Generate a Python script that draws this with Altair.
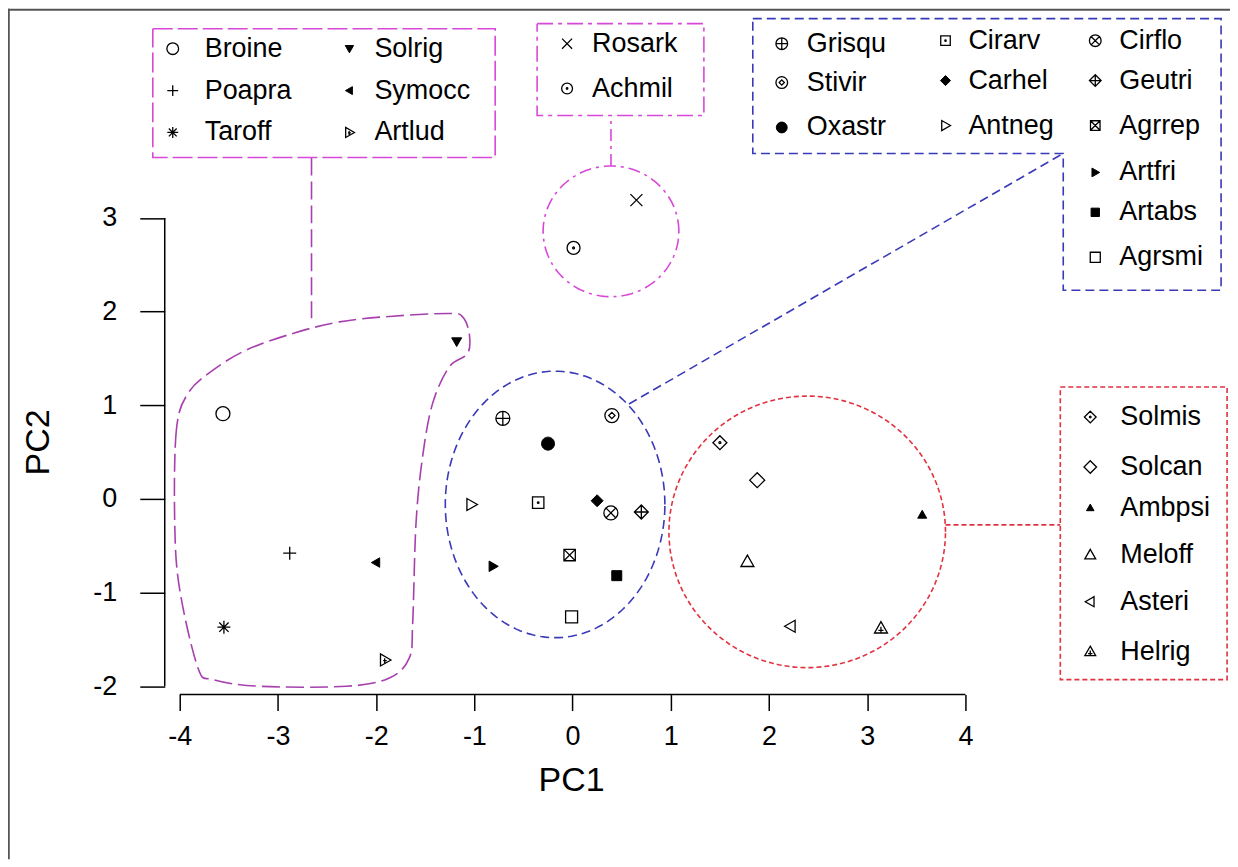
import altair as alt
import numpy as np
import pandas as pd

# ---------------- data ----------------
species = ["Broine", "Poapra", "Taroff", "Solrig", "Symocc", "Artlud",
           "Rosark", "Achmil",
           "Grisqu", "Stivir", "Oxastr", "Cirarv", "Carhel", "Antneg",
           "Cirflo", "Geutri", "Agrrep", "Artfri", "Artabs", "Agrsmi",
           "Solmis", "Solcan", "Ambpsi", "Meloff", "Asteri", "Helrig"]
pc1 = [-3.56, -2.88, -3.55, -1.18, -2.00, -1.91,
       0.65, 0.01,
       -0.71, 0.40, -0.25, -0.35, 0.25, -1.03,
       0.39, 0.70, -0.03, -0.81, 0.45, -0.01,
       1.50, 1.88, 3.56, 1.78, 2.22, 3.14]
pc2 = [0.91, -0.58, -1.37, 1.68, -0.68, -1.72,
       3.19, 2.68,
       0.86, 0.89, 0.59, -0.04, -0.02, -0.06,
       -0.15, -0.14, -0.60, -0.72, -0.82, -1.26,
       0.60, 0.20, -0.17, -0.67, -1.36, -1.38]
x_ticks = [-4, -3, -2, -1, 0, 1, 2, 3, 4]
y_ticks = [-2, -1, 0, 1, 2, 3]

# ---------------- layout (data units) ----------------
XD = [-5.7484, 6.6938]
YD = [-3.8487, 5.2345]
W, H = 1224, 852
AX_X = -4.1525   # y-axis line position
AX_Y = -2.0896   # x-axis line position

# legend layout: species, symbol x, text x, y
legend_layout = [
    ("Broine", -4.071, -3.746, 4.808), ("Poapra", -4.071, -3.746, 4.360), ("Taroff", -4.071, -3.746, 3.913),
    ("Solrig", -2.272, -2.018, 4.808), ("Symocc", -2.272, -2.018, 4.360), ("Artlud", -2.272, -2.018, 3.913),
    ("Rosark", -0.056, 0.198, 4.861), ("Achmil", -0.056, 0.198, 4.382),
    ("Grisqu", 2.130, 2.384, 4.861), ("Stivir", 2.130, 2.384, 4.446), ("Oxastr", 2.130, 2.384, 3.966),
    ("Cirarv", 3.797, 4.030, 4.893), ("Carhel", 3.797, 4.030, 4.467), ("Antneg", 3.797, 4.030, 3.987),
    ("Cirflo", 5.322, 5.566, 4.893), ("Geutri", 5.322, 5.566, 4.467), ("Agrrep", 5.322, 5.566, 3.987),
    ("Artfri", 5.322, 5.566, 3.486), ("Artabs", 5.322, 5.566, 3.060), ("Agrsmi", 5.322, 5.566, 2.580),
    ("Solmis", 5.271, 5.576, 0.874), ("Solcan", 5.271, 5.576, 0.341), ("Ambpsi", 5.271, 5.576, -0.096),
    ("Meloff", 5.271, 5.576, -0.597), ("Asteri", 5.271, 5.576, -1.098), ("Helrig", 5.271, 5.576, -1.631),
]

# ---------------- symbol styles ----------------
C = "M1,0A1,1,0,1,1,-1,0A1,1,0,1,1,1,0Z"
DOT = "M0.14,0A0.14,0.14,0,1,1,-0.14,0A0.14,0.14,0,1,1,0.14,0Z"
PLUS = "M-1,0L1,0M0,-1L0,1"
XX = "M-0.72,-0.72L0.72,0.72M-0.72,0.72L0.72,-0.72"
XFULL = "M-1,-1L1,1M-1,1L1,-1"
SQ = "M-1,-1L1,-1L1,1L-1,1Z"
DIA = "M0,-1L1,0L0,1L-1,0Z"
SDIA = "M0,-0.45L0.45,0L0,0.45L-0.45,0Z"
TUP = "M0,-1L1,0.75L-1,0.75Z"
TDOWN = "M0,1L1,-0.75L-1,-0.75Z"
TLEFT = "M-1,0L0.75,-1L0.75,1Z"
TRIGHT = "M1,0L-0.75,-1L-0.75,1Z"

style = {
    "Broine": (C, False, 196), "Poapra": (PLUS, False, 169), "Taroff": (PLUS + XX, False, 169),
    "Solrig": (TDOWN, True, 100), "Symocc": (TLEFT, True, 90), "Artlud": (TRIGHT + "M-0.3,0.1L0.3,0.1M-0.05,-0.3L-0.05,0.5", False, 144),
    "Rosark": (XFULL, False, 144), "Achmil": (C + DOT, False, 169),
    "Grisqu": (C + PLUS, False, 196), "Stivir": (C + SDIA, False, 196), "Oxastr": (C, True, 169),
    "Cirarv": (SQ + DOT, False, 130), "Carhel": (DIA, True, 144), "Antneg": (TRIGHT, False, 144),
    "Cirflo": (C + XX, False, 196), "Geutri": (DIA + PLUS, False, 196), "Agrrep": (SQ + XFULL, False, 130),
    "Artfri": (TRIGHT, True, 110), "Artabs": (SQ, True, 100), "Agrsmi": (SQ, False, 144),
    "Solmis": (DIA + DOT, False, 196), "Solcan": (DIA, False, 225), "Ambpsi": (TUP, True, 81),
    "Meloff": (TUP, False, 169), "Asteri": (TLEFT, False, 144), "Helrig": (TUP + "M-0.4,0.35L0.4,0.35M0,-0.2L0,0.75", False, 169),
}
LEG_SCALE = 0.7

FONT = "Liberation Sans"

pts = pd.DataFrame({"species": species, "x": pc1, "y": pc2})
pts["shape"] = [style[s][0] for s in species]
pts["filled"] = [style[s][1] for s in species]
pts["size"] = [style[s][2] for s in species]

leg = pd.DataFrame(legend_layout, columns=["species", "x", "tx", "y"])
leg["shape"] = [style[s][0] for s in leg["species"]]
leg["filled"] = [style[s][1] for s in leg["species"]]
leg["size"] = [style[s][2] * LEG_SCALE for s in leg["species"]]

xscale = alt.Scale(domain=XD, nice=False, zero=False)
yscale = alt.Scale(domain=YD, nice=False, zero=False)
xaxis = alt.Axis(values=x_ticks, orient="bottom", offset=-165, domain=False, grid=False,
                 tickSize=16, tickWidth=1.5, tickColor="black",
                 labelFontSize=27, labelFont=FONT, labelColor="black", labelPadding=13,
                 labelFlush=False, labelOverlap=False, labelExpr="'' + datum.value",
                 title="PC1", titleFont=FONT, titleFontSize=34, titleFontWeight="normal",
                 titleColor="black", titleX=564, titleY=86, titleBaseline="middle", titleAlign="center")
yaxis = alt.Axis(values=y_ticks, orient="left", offset=-157, domain=False, grid=False,
                 tickSize=25, tickWidth=1.5, tickColor="black",
                 labelFontSize=27, labelFont=FONT, labelColor="black", labelPadding=23,
                 labelFlush=False, labelOverlap=False, labelExpr="'' + datum.value",
                 title="PC2", titleFont=FONT, titleFontSize=34, titleFontWeight="normal",
                 titleColor="black", titleX=-126, titleY=434, titleBaseline="middle", titleAlign="center",
                 titleAngle=270)


def X(f="x"):
    return alt.X(f"{f}:Q", scale=xscale, axis=xaxis)


def Y(f="y"):
    return alt.Y(f"{f}:Q", scale=yscale, axis=yaxis)


def path_df(xs, ys):
    return pd.DataFrame({"x": xs, "y": ys, "i": range(len(xs))})


def ellipse(cx, cy, rx, ry, n=160):
    t = np.linspace(0, 2 * np.pi, n)
    return path_df(cx + rx * np.cos(t), cy + ry * np.sin(t))


def outline(df, color, dash, interp="linear", width=1.6):
    return alt.Chart(df).mark_line(color=color, strokeDash=dash, strokeWidth=width,
                                   interpolate=interp).encode(
        x=X(), y=Y(), order=alt.Order("i:Q"))


PURPLE = "#A640AE"
MAGENTA = "#D848D8"
BLUE = "#3A3AB8"
RED = "#E2323F"

blob_x = [-3.916, -4.034, -4.051, -4.000, -3.814, -3.661, -3.187, -2.305, -1.865, -1.662, -1.628, -1.594,
          -1.527, -1.425, -1.255, -1.069, -1.052, -1.120, -1.255, -1.832, -2.374, -2.848, -3.322, -3.661]
blob_y = [1.127, 0.736, -0.259, -0.970, -1.805, -1.930, -2.001, -2.001, -1.912, -1.698, -1.325, -0.259,
          0.451, 1.020, 1.410, 1.553, 1.766, 1.944, 1.980, 1.951, 1.890, 1.767, 1.589, 1.375]

layers = []

# frame (left & top)
frame = pd.DataFrame({"x": [XD[0] + 0.008, XD[0]], "x2": [XD[0] + 0.008, XD[1]],
                      "y": [YD[0], YD[1] - 0.011], "y2": [YD[1], YD[1] - 0.011]})
layers.append(alt.Chart(frame).mark_rule(color="#555555", strokeWidth=2).encode(
    x=X(), x2="x2:Q", y=Y(), y2="y2:Q"))

# axis lines
axl = pd.DataFrame({"x": [x_ticks[0], AX_X], "x2": [x_ticks[-1], AX_X],
                    "y": [AX_Y, y_ticks[0]], "y2": [AX_Y, y_ticks[-1]]})
layers.append(alt.Chart(axl).mark_rule(color="black", strokeWidth=1.5).encode(
    x=X(), x2="x2:Q", y=Y(), y2="y2:Q"))

# outlines
layers.append(outline(path_df(blob_x, blob_y), PURPLE, [18, 6], interp="cardinal-closed"))
layers.append(outline(path_df([-2.658, -2.658], [3.646, 1.930]), PURPLE, [18, 6]))
layers.append(outline(path_df([-4.274, -0.788, -0.788, -4.274, -4.274], [5.021, 5.021, 3.646, 3.646, 5.021]),
                      MAGENTA, [20, 5]))

layers.append(outline(ellipse(0.391, 2.857, 0.691, 0.698), MAGENTA, [12, 5, 3, 5]))
layers.append(outline(path_df([0.391, 0.391], [3.555, 4.094]), MAGENTA, [12, 5, 3, 5]))
layers.append(outline(path_df([-0.361, 1.337, 1.337, -0.361, -0.361], [5.075, 5.075, 4.094, 4.094, 5.075]),
                      MAGENTA, [16, 5, 4, 5]))

layers.append(outline(ellipse(-0.178, -0.059, 1.118, 1.423), BLUE, [9, 5]))
layers.append(outline(path_df([0.574, 4.996], [1.013, 3.689]), BLUE, [9, 5]))
layers.append(outline(path_df([1.835, 6.603, 6.603, 4.996, 4.996, 1.835, 1.835],
                              [5.128, 5.128, 2.228, 2.228, 3.689, 3.689, 5.128]), BLUE, [9, 5]))

layers.append(outline(ellipse(2.389, -0.352, 1.408, 1.450), RED, [5, 3]))
layers.append(outline(path_df([3.797, 4.966], [-0.277, -0.277]), RED, [5, 3]))
layers.append(outline(path_df([4.966, 6.664, 6.664, 4.966, 4.966], [1.194, 1.194, -1.930, -1.930, 1.194]),
                      RED, [5, 3]))


def symbols(df, filled):
    sub = df[df["filled"] == filled]
    if filled:
        m = alt.Chart(sub).mark_point(filled=True, color="black", opacity=1, stroke="black", strokeWidth=1)
    else:
        m = alt.Chart(sub).mark_point(filled=False, color="black", opacity=1, strokeWidth=1.3)
    return m.encode(x=X(), y=Y(), shape=alt.Shape("shape:N", scale=None, legend=None),
                    size=alt.Size("size:Q", scale=None, legend=None))


layers.append(symbols(pts, False))
layers.append(symbols(pts, True))
layers.append(symbols(leg, False))
layers.append(symbols(leg, True))

layers.append(alt.Chart(leg).mark_text(align="left", baseline="middle", font=FONT, fontSize=27,
                                       color="black").encode(
    x=X("tx"), y=Y(), text="species:N"))

chart = alt.layer(*layers).properties(
    width=W, height=H, autosize=alt.AutoSizeParams(type="none"), padding=0,
    background="white"
).configure_view(stroke=None)

chart.save("out.html", embed_options={"renderer": "svg", "actions": False})
